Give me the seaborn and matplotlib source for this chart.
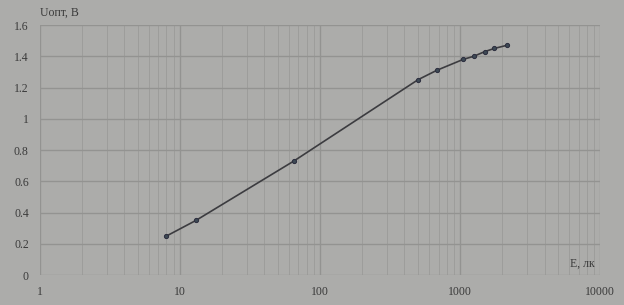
import matplotlib
matplotlib.use("Agg")
import matplotlib.pyplot as plt
import seaborn as sns
import pandas as pd
from matplotlib.ticker import LogLocator, FixedLocator, NullFormatter

illum = [8, 13, 65, 500, 680, 1050, 1250, 1500, 1750, 2150]
u_opt = [0.25, 0.35, 0.73, 1.25, 1.31, 1.38, 1.40, 1.43, 1.45, 1.47]
x_ticks = [1, 10, 100, 1000, 10000]
x_labels = ["1", "10", "100", "1000", "10000"]
y_ticks = [0, 0.2, 0.4, 0.6, 0.8, 1, 1.2, 1.4, 1.6]
y_labels = ["0", "0.2", "0.4", "0.6", "0.8", "1", "1.2", "1.4", "1.6"]

df = pd.DataFrame({"E": illum, "U": u_opt})

sns.set_theme(style="white")
plt.rcParams['font.family'] = ['Liberation Serif', 'DejaVu Sans']

bg = "#acacaa"
fig = plt.figure(figsize=(6.24, 3.05), dpi=100, facecolor=bg)
ax = fig.add_axes([0.064, 0.098, 0.898, 0.82], facecolor=bg)

sns.lineplot(data=df, x="E", y="U", ax=ax, color="#3c3c40", linewidth=1.2,
             marker="o", markersize=3, markeredgecolor="#2e3040", markerfacecolor="#3e4a55")

ax.set_xscale("log")
ax.set_xlim(1, 10000)
ax.set_ylim(0, 1.6)
ax.xaxis.set_major_locator(FixedLocator(x_ticks))
ax.xaxis.set_minor_locator(LogLocator(base=10, subs=range(2, 10)))
ax.xaxis.set_minor_formatter(NullFormatter())
ax.set_xticks(x_ticks)
ax.set_xticklabels(x_labels)
ax.set_yticks(y_ticks)
ax.set_yticklabels(y_labels)
ax.tick_params(axis="both", length=0, labelsize=8.5, colors="#3a3a3a", pad=8)
ax.tick_params(axis="x", which="minor", length=0)

ax.grid(True, which="major", color="#939391", linewidth=1.0)
ax.grid(True, which="minor", axis="x", color="#9d9d9b", linewidth=0.7)
for s in ax.spines.values():
    s.set_visible(False)
ax.axvline(1, color="#939391", linewidth=1.2)

ax.set_xlabel("")
ax.set_ylabel("")
ax.text(0.0, 1.025, "Uопт, В", transform=ax.transAxes, fontsize=8.5,
        color="#3a3a3a", ha="left", va="bottom")
ax.text(0.99, 0.02, "E, лк", transform=ax.transAxes, fontsize=8.5,
        color="#3a3a3a", ha="right", va="bottom")

fig.savefig("out.png", dpi=100, facecolor=bg)
